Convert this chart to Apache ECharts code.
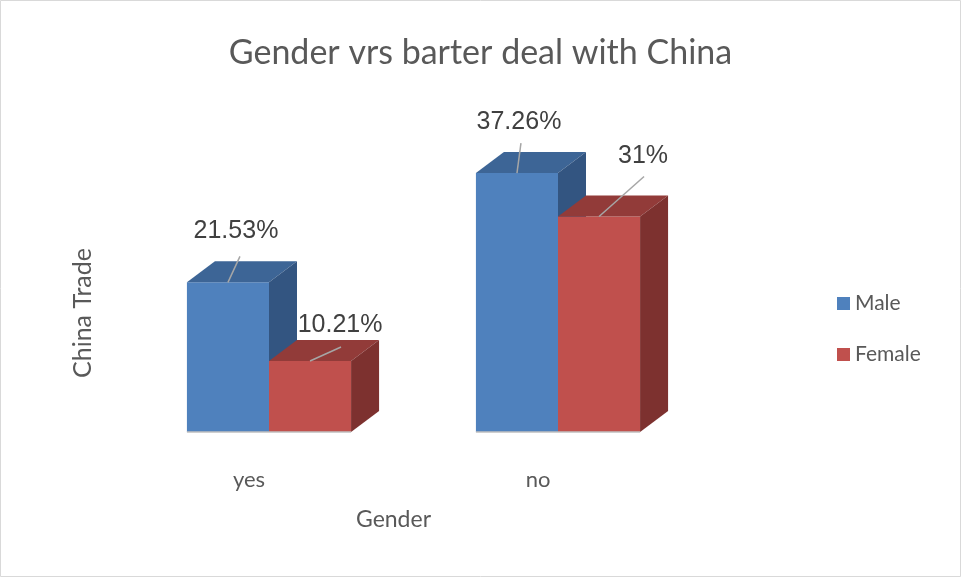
<!DOCTYPE html>
<html>
<head>
<meta charset="utf-8">
<script src="https://cdn.jsdelivr.net/npm/echarts@6/dist/echarts.min.js"></script>
<style>
  html, body { margin: 0; padding: 0; background: #fff; }
  #chart { width: 961px; height: 577px; }
</style>
</head>
<body>
<div id="chart"></div>
<script>
const categories = ['yes', 'no'];
const maleValues = [21.53, 37.26];
const femaleValues = [10.21, 31];

// label placement relative to the top-front centre of each bar: [lineDx, lineDy, textDx, textDy]
const maleLabelShift = [[12, -26, 8, -51], [4, -30, 2, -51]];
const femaleLabelShift = [[31, -14, 30, -36], [45, -40, 44, -60]];

const depthX = 28;
const depthY = 21;
const frontShift = 20;
const barRatio = 0.284;

const palette = {
  Male: { front: '#4F81BD', top: '#3D6596', side: '#335581' },
  Female: { front: '#C0504D', top: '#923B39', side: '#7D312F' }
};

const makeRender = (name, side, shifts) => function (params, api) {
  const idx = api.value(0);
  const val = api.value(1);
  const p = api.coord([idx, val]);
  const base = api.coord([idx, 0]);
  const band = api.size([1, 0])[0];
  const w = band * barRatio;
  const x0 = side === 'left' ? p[0] + frontShift - w : p[0] + frontShift;
  const y0 = p[1];
  const y1 = base[1];
  const c = palette[name];
  const cx = x0 + w / 2;
  const s = shifts[params.dataIndex];
  return {
    type: 'group',
    children: [
      {
        type: 'rect',
        shape: { x: x0, y: y0, width: w, height: y1 - y0 },
        style: { fill: c.front }
      },
      {
        type: 'polygon',
        shape: { points: [[x0, y0], [x0 + w, y0], [x0 + w + depthX, y0 - depthY], [x0 + depthX, y0 - depthY]] },
        style: { fill: c.top }
      },
      {
        type: 'polygon',
        shape: { points: [[x0 + w, y0], [x0 + w + depthX, y0 - depthY], [x0 + w + depthX, y1 - depthY], [x0 + w, y1]] },
        style: { fill: c.side }
      },
      {
        type: 'line',
        shape: { x1: x0, y1: y1, x2: x0 + w, y2: y1 },
        style: { stroke: '#BFBFBF', lineWidth: 1.5 }
      },
      {
        type: 'line',
        shape: { x1: cx, y1: y0, x2: cx + s[0], y2: y0 + s[1] },
        style: { stroke: '#A6A6A6', lineWidth: 1.5 }
      },
      {
        type: 'text',
        x: cx + s[2],
        y: y0 + s[3],
        style: {
          text: val + '%',
          fill: '#404040',
          font: '25px "Liberation Sans", Arial, sans-serif',
          align: 'center',
          verticalAlign: 'middle'
        }
      }
    ]
  };
};

const chart = echarts.init(document.getElementById('chart'));
const option = {
  backgroundColor: '#fff',
  animation: false,
  title: {
    text: 'Gender vrs barter deal with China',
    left: 'center',
    top: 31,
    textStyle: { fontFamily: 'Lato', fontSize: 34, fontWeight: 'normal', color: '#595959' }
  },
  graphic: [
    {
      type: 'rect',
      shape: { x: 0.5, y: 0.5, width: 960, height: 576 },
      style: { fill: 'none', stroke: '#D9D9D9', lineWidth: 1 },
      silent: true
    }
  ],
  legend: {
    orient: 'vertical',
    left: 832,
    top: 288,
    itemWidth: 13,
    itemHeight: 13,
    itemGap: 30,
    icon: 'rect',
    textStyle: { fontFamily: 'Lato', fontSize: 21, color: '#595959' },
    data: ['Male', 'Female']
  },
  grid: { left: 104.5, right: 278.5, top: 154, bottom: 145 },
  xAxis: {
    type: 'category',
    data: categories,
    axisLine: { show: false },
    axisTick: { show: false },
    axisLabel: { margin: 37, fontFamily: 'Lato', fontSize: 22, color: '#595959' },
    name: 'Gender',
    nameLocation: 'middle',
    nameGap: 76,
    nameTextStyle: { fontFamily: 'Lato', fontSize: 23, color: '#595959' }
  },
  yAxis: {
    type: 'value',
    min: 0,
    max: 40,
    axisLine: { show: false },
    axisTick: { show: false },
    axisLabel: { show: false },
    splitLine: { show: false },
    name: 'China Trade',
    nameLocation: 'middle',
    nameRotate: 90,
    nameGap: 9,
    nameTextStyle: { fontFamily: 'Lato', fontSize: 25, color: '#595959', padding: [0, 40, 0, 0] }
  },
  series: [
    {
      name: 'Male',
      type: 'custom',
      itemStyle: { color: palette.Male.front },
      renderItem: makeRender('Male', 'left', maleLabelShift),
      encode: { x: 0, y: 1 },
      data: maleValues.map((v, i) => [i, v])
    },
    {
      name: 'Female',
      type: 'custom',
      itemStyle: { color: palette.Female.front },
      renderItem: makeRender('Female', 'right', femaleLabelShift),
      encode: { x: 0, y: 1 },
      data: femaleValues.map((v, i) => [i, v])
    }
  ]
};
chart.setOption(option);
</script>
</body>
</html>
